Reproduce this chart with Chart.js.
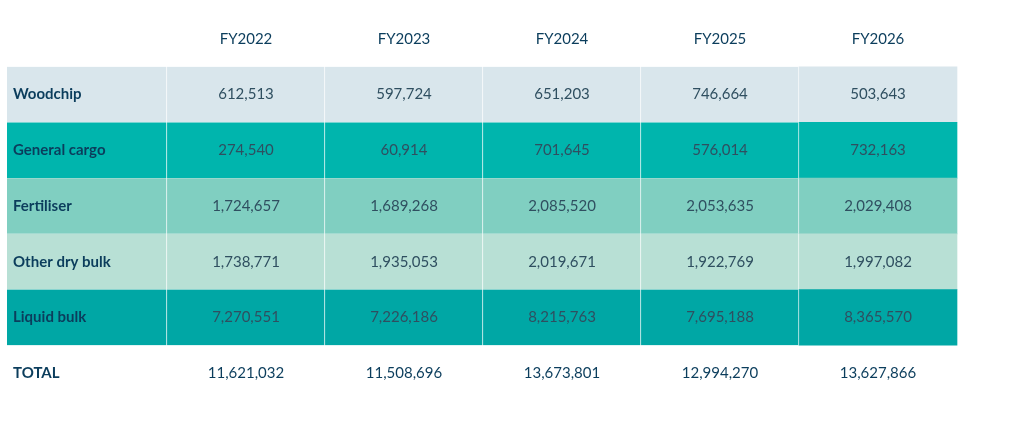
<!DOCTYPE html>
<html><head><meta charset="utf-8">
<script src="https://cdn.jsdelivr.net/npm/chart.js@4"></script>
<style>html,body{margin:0;padding:0;background:#fff}#w{width:1024px;height:447px}</style>
</head><body><div id="w"><canvas id="c"></canvas></div>
<script>
const years = ['FY2022','FY2023','FY2024','FY2025','FY2026'];
const categories = ['Woodchip','General cargo','Fertiliser','Other dry bulk','Liquid bulk'];
const woodchip = [612513, 597724, 651203, 746664, 503643];
const generalCargo = [274540, 60914, 701645, 576014, 732163];
const fertiliser = [1724657, 1689268, 2085520, 2053635, 2029408];
const otherDryBulk = [1738771, 1935053, 2019671, 1922769, 1997082];
const liquidBulk = [7270551, 7226186, 8215763, 7695188, 8365570];
const totals = [11621032, 11508696, 13673801, 12994270, 13627866];
const series = [woodchip, generalCargo, fertiliser, otherDryBulk, liquidBulk];
const rowColors = ['#d9e6ec','#00b5ad','#80cfc1','#b8e0d5','#00a7a5'];
const edges = [7, 167, 325, 483, 641, 799, 957];
const rows = ['hdr', ...categories, 'TOTAL'];
const fmt = v => v.toLocaleString('en-US');
const datasets = [];
for (let c = 0; c < 6; c++) {
  datasets.push({
    data: rows.map((r, i) => (i >= 1 && i <= 5) ? [edges[c], edges[c+1]] : null),
    backgroundColor: rows.map((r, i) => (i >= 1 && i <= 5) ? rowColors[i-1] : 'transparent'),
    borderColor: 'rgba(255,255,255,0.7)',
    borderWidth: c < 5 ? {right: 1, left: 0, top: 0, bottom: 0} : 0,
    borderSkipped: false,
    barPercentage: 1, categoryPercentage: 1, grouped: false
  });
}
const textPlugin = {
  id: 'txt',
  afterDatasetsDraw(chart) {
    const ctx = chart.ctx, x = chart.scales.x, y = chart.scales.y;
    ctx.save();
    ctx.textBaseline = 'middle';
    const navy = '#0b3d5c';
    // header
    ctx.font = '15px Lato';
    ctx.fillStyle = navy; ctx.textAlign = 'center';
    years.forEach((yr, j) => ctx.fillText(yr, x.getPixelForValue((edges[j+1]+edges[j+2])/2), y.getPixelForValue('hdr')));
    categories.forEach((cat, i) => {
      const py = y.getPixelForValue(cat);
      ctx.font = 'bold 15px Lato'; ctx.textAlign = 'left'; ctx.fillStyle = navy;
      ctx.fillText(cat, x.getPixelForValue(edges[0] + 6), py);
      ctx.font = '15px Lato'; ctx.textAlign = 'center'; ctx.fillStyle = '#2f4f60';
      series[i].forEach((v, j) => ctx.fillText(fmt(v), x.getPixelForValue((edges[j+1]+edges[j+2])/2), py));
    });
    const ty = y.getPixelForValue('TOTAL');
    ctx.font = 'bold 15px Lato'; ctx.textAlign = 'left'; ctx.fillStyle = navy;
    ctx.fillText('TOTAL', x.getPixelForValue(edges[0] + 6), ty);
    ctx.font = '15px Lato'; ctx.textAlign = 'center';
    totals.forEach((v, j) => ctx.fillText(fmt(v), x.getPixelForValue((edges[j+1]+edges[j+2])/2), ty));
    ctx.restore();
  }
};
new Chart(document.getElementById('c'), {
  type: 'bar',
  data: { labels: rows, datasets },
  options: {
    indexAxis: 'y', responsive: true, maintainAspectRatio: false, animation: false,
    layout: { padding: { top: 11, bottom: 46, left: 0, right: 0 } },
    plugins: { legend: { display: false }, tooltip: { enabled: false } },
    scales: {
      x: { min: 0, max: 1024, display: false },
      y: { display: false, offset: true }
    }
  },
  plugins: [textPlugin]
});
</script></body></html>
